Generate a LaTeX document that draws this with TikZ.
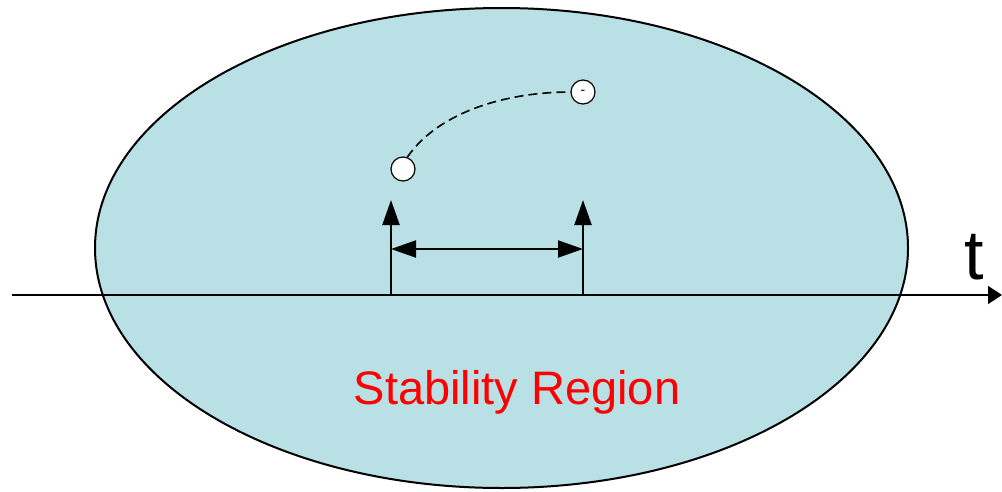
\documentclass[tikz,border=0pt]{standalone}
\usepackage{fontspec}
\setmainfont{Liberation Sans}
\usetikzlibrary{arrows.meta,shapes.geometric}
\definecolor{regionfill}{RGB}{185,224,228}
\definecolor{labelred}{RGB}{255,0,0}
\tikzset{
  regionshape/.style={ellipse,draw=black,line width=2pt,fill=regionfill,minimum width=813pt,minimum height=480pt,inner sep=0pt},
  dot/.style={circle,draw=black,line width=1.2pt,fill=white,minimum size=24pt,inner sep=0pt,font=\fontsize{14}{14}\selectfont},
  bar/.style={line width=2pt,-{Triangle[length=25pt,width=17pt]}},
  span/.style={line width=2pt,{Triangle[length=25pt,width=17pt]}-{Triangle[length=25pt,width=17pt]}},
  axis/.style={line width=1.6pt,-{Triangle[length=14pt,width=18pt]}},
  trail/.style={line width=1.6pt,dash pattern=on 9pt off 5pt}
}
\begin{document}
\begin{tikzpicture}[x=1pt,y=-1pt]
\useasboundingbox (0,0) rectangle (1002,491);
\node[regionshape] (region) at (501.5,248) {};
\coordinate (axstart) at (12,295);
\coordinate (axend) at (1002,295);
\draw[axis] (axstart) -- (axend);
\node[anchor=base,inner sep=0pt,font=\fontsize{70}{70}\selectfont] (tlabel) at (974,279) {t};
\coordinate (foot1) at (391,295);
\coordinate (foot2) at (583,295);
\coordinate (top1) at (391,200);
\coordinate (top2) at (583,200);
\draw[bar] (foot1) -- (top1);
\draw[bar] (foot2) -- (top2);
\coordinate (span1) at (391,249);
\coordinate (span2) at (583,249);
\draw[span] (span1) -- (span2);
\node[dot] (start) at (403,169) {};
\node[dot] (finish) at (583,92) {-};
\draw[trail] (start.70) .. controls (440,110) and (510,92) .. (finish.west);
\node[text=labelred,font=\fontsize{47}{47}\selectfont,inner sep=0pt,anchor=base] (label) at (517,404) {Stability Region};
\end{tikzpicture}
\end{document}
